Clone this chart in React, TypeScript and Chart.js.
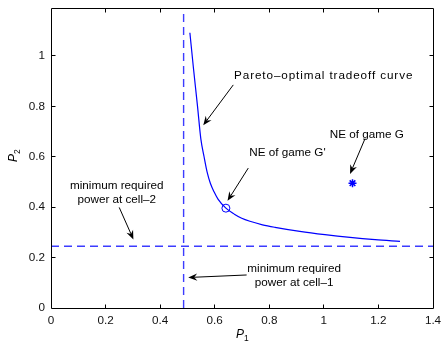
import React, { useEffect, useRef } from 'react';
import { Chart, registerables } from 'chart.js';

Chart.register(...registerables);

// ---- data ----
const X_MIN = 0;
const X_MAX = 1.4;
const Y_MIN = 0;
const Y_MAX = 1.19;
const TICK_STEP = 0.2;

// Pareto-optimal tradeoff curve
const curveP1 = [0.509, 0.522, 0.537, 0.549, 0.561, 0.572, 0.584, 0.598, 0.612, 0.641, 0.672, 0.699, 0.729, 0.775, 0.821, 0.912, 1.004, 1.096, 1.188, 1.279];
const curveP2 = [1.092, 0.952, 0.800, 0.672, 0.600, 0.540, 0.495, 0.460, 0.432, 0.396, 0.372, 0.356, 0.344, 0.330, 0.320, 0.304, 0.291, 0.280, 0.271, 0.264];

// minimum required powers
const minP1 = 0.486;
const minP2 = 0.245;

// equilibria
const neGPrime = [0.641, 0.396];
const neG = [1.105, 0.495];

// annotation texts
const textPareto = ['Pareto\u2013optimal tradeoff curve'];
const textNEGPrime = ["NE of game G'"];
const textNEG = ['NE of game G'];
const textCell2 = ['minimum required', 'power at cell\u20132'];
const textCell1 = ['minimum required', 'power at cell\u20131'];

// ---- annotation layout (data coordinates) ----
const annotations = [
  { lines: textPareto, tx: 0.671, ty: 0.92, align: 'left', spacing: 0.9, from: [0.668, 0.885], to: [0.558, 0.725] },
  { lines: textNEGPrime, tx: 0.727, ty: 0.616, align: 'left', spacing: 0, from: [0.723, 0.555], to: [0.647, 0.425] },
  { lines: textNEG, tx: 1.022, ty: 0.688, align: 'left', spacing: 0, from: [1.151, 0.672], to: [1.096, 0.532] },
  { lines: textCell2, tx: 0.241, ty: 0.485, align: 'center', spacing: 0, from: [0.25, 0.399], to: [0.302, 0.272] },
  { lines: textCell1, tx: 0.891, ty: 0.155, align: 'center', spacing: 0, from: [0.717, 0.131], to: [0.503, 0.121] },
];

const FONT = '"Liberation Sans", Arial, Helvetica, sans-serif';
const BLUE = 'rgb(0,0,255)';

function drawArrow(ctx: CanvasRenderingContext2D, x1: number, y1: number, x2: number, y2: number) {
  const ang = Math.atan2(y2 - y1, x2 - x1);
  const L = 9;
  const W = 3.6;
  const notch = 6;
  const cos = Math.cos(ang);
  const sin = Math.sin(ang);
  const bx = x2 - L * cos;
  const by = y2 - L * sin;
  const nx = x2 - notch * cos;
  const ny = y2 - notch * sin;
  ctx.beginPath();
  ctx.moveTo(x1, y1);
  ctx.lineTo(nx, ny);
  ctx.stroke();
  ctx.beginPath();
  ctx.moveTo(x2, y2);
  ctx.lineTo(bx - W * sin, by + W * cos);
  ctx.lineTo(nx, ny);
  ctx.lineTo(bx + W * sin, by - W * cos);
  ctx.closePath();
  ctx.fill();
}

const decorPlugin = {
  id: 'decor',
  afterDraw(chart: any) {
    const { ctx, chartArea: a, scales } = chart;
    const xs = scales.x;
    const ys = scales.y;
    ctx.save();
    ctx.strokeStyle = '#000';
    ctx.fillStyle = '#000';
    ctx.lineWidth = 1;
    const L = Math.floor(a.left) + 0.5;
    const R = Math.floor(a.right) + 0.5;
    const T = Math.floor(a.top) + 0.5;
    const B = Math.floor(a.bottom) + 0.5;
    ctx.beginPath();
    ctx.rect(L, T, R - L, B - T);
    ctx.stroke();
    // inward ticks on all four sides
    const tl = 4;
    ctx.beginPath();
    xs.ticks.forEach((t: any) => {
      const px = Math.floor(xs.getPixelForValue(t.value)) + 0.5;
      if (px <= L + 1 || px >= R - 1) return;
      ctx.moveTo(px, B);
      ctx.lineTo(px, B - tl);
      ctx.moveTo(px, T);
      ctx.lineTo(px, T + tl);
    });
    ys.ticks.forEach((t: any) => {
      const py = Math.floor(ys.getPixelForValue(t.value)) + 0.5;
      if (py <= T + 1 || py >= B - 1) return;
      ctx.moveTo(L, py);
      ctx.lineTo(L + tl, py);
      ctx.moveTo(R, py);
      ctx.lineTo(R - tl, py);
    });
    ctx.stroke();

    // annotations
    ctx.font = `11.7px ${FONT}`;
    ctx.textBaseline = 'middle';
    const lh = 14;
    annotations.forEach((an) => {
      const tx = xs.getPixelForValue(an.tx);
      const ty = ys.getPixelForValue(an.ty);
      ctx.textAlign = an.align as CanvasTextAlign;
      (ctx as any).letterSpacing = `${an.spacing}px`;
      an.lines.forEach((ln, i) => ctx.fillText(ln, tx, ty + i * lh));
      (ctx as any).letterSpacing = '0px';
      drawArrow(
        ctx,
        xs.getPixelForValue(an.from[0]),
        ys.getPixelForValue(an.from[1]),
        xs.getPixelForValue(an.to[0]),
        ys.getPixelForValue(an.to[1])
      );
    });

    // axis titles P1 / P2
    const cx = (a.left + a.right) / 2;
    const cy = (a.top + a.bottom) / 2;
    ctx.textAlign = 'left';
    ctx.textBaseline = 'alphabetic';
    ctx.font = `italic 12px ${FONT}`;
    ctx.fillText('P', cx - 6, a.bottom + 30);
    ctx.font = `8.5px ${FONT}`;
    ctx.fillText('1', cx + 2, a.bottom + 33);

    ctx.translate(a.left - 34, cy + 4);
    ctx.rotate(-Math.PI / 2);
    ctx.font = `italic 12px ${FONT}`;
    ctx.fillText('P', 0, 0);
    ctx.font = `8.5px ${FONT}`;
    ctx.fillText('2', 8, 3);
    ctx.restore();
  },
};

const fmt = (v: any) => String(Math.round(Number(v) * 10) / 10);

export default function App() {
  const ref = useRef<HTMLCanvasElement | null>(null);
  useEffect(() => {
    document.body.style.margin = '0';
    const canvas = ref.current;
    if (!canvas) return;
    const tickFont = { family: FONT, size: 11.7 };
    const chart = new Chart(canvas, {
      type: 'scatter',
      data: {
        datasets: [
          {
            data: curveP1.map((x, i) => ({ x, y: curveP2[i] })),
            showLine: true,
            borderColor: BLUE,
            borderWidth: 1.2,
            pointRadius: 0,
            cubicInterpolationMode: 'monotone',
            fill: false,
          } as any,
          {
            data: [{ x: minP1, y: Y_MIN }, { x: minP1, y: Y_MAX }],
            showLine: true,
            borderColor: 'rgb(60,60,255)',
            borderWidth: 1.4,
            borderDash: [8, 5],
            pointRadius: 0,
          },
          {
            data: [{ x: X_MIN, y: minP2 }, { x: X_MAX, y: minP2 }],
            showLine: true,
            borderColor: 'rgb(60,60,255)',
            borderWidth: 1.3,
            borderDash: [8, 5],
            pointRadius: 0,
          },
          {
            data: [{ x: neGPrime[0], y: neGPrime[1] }],
            pointStyle: 'circle',
            pointRadius: 4,
            borderColor: BLUE,
            backgroundColor: 'rgba(0,0,0,0)',
            borderWidth: 1,
          },
          {
            data: [{ x: neG[0], y: neG[1] }],
            pointStyle: 'star',
            pointRadius: 4,
            borderColor: BLUE,
            backgroundColor: BLUE,
            borderWidth: 1.5,
          },
        ],
      },
      options: {
        responsive: false,
        animation: false,
        devicePixelRatio: 1,
        layout: { padding: { top: 8, right: 8, left: 0, bottom: 0 } },
        plugins: { legend: { display: false }, tooltip: { enabled: false } },
        scales: {
          x: {
            type: 'linear',
            min: X_MIN,
            max: X_MAX,
            grid: { display: false, drawTicks: false },
            border: { display: false },
            ticks: { stepSize: TICK_STEP, font: tickFont, color: '#111', padding: 6, maxRotation: 0, callback: fmt },
            afterFit(scale: any) {
              scale.height = 33;
              scale.paddingLeft = 0;
              scale.paddingRight = 0;
            },
          },
          y: {
            type: 'linear',
            min: Y_MIN,
            max: Y_MAX,
            grid: { display: false, drawTicks: false },
            border: { display: false },
            ticks: { stepSize: TICK_STEP, includeBounds: false, font: tickFont, color: '#111', padding: 6, callback: fmt },
            afterFit(scale: any) {
              scale.width = 51;
              scale.paddingTop = 0;
              scale.paddingBottom = 0;
            },
          },
        },
      } as any,
      plugins: [decorPlugin],
    });
    return () => chart.destroy();
  }, []);
  return (
    <div style={{ width: 441, height: 341 }}>
      <canvas ref={ref} width={441} height={341} style={{ display: 'block' }} />
    </div>
  );
}
